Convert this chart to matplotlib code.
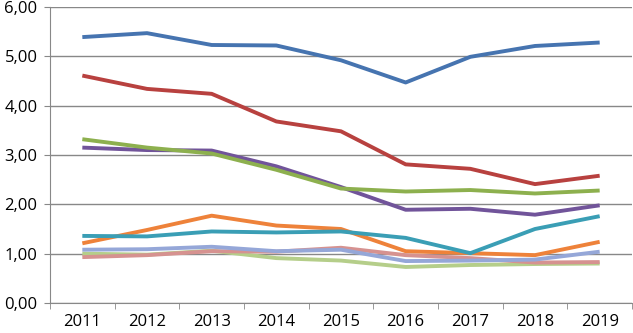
import numpy as np
import matplotlib
matplotlib.use("Agg")
import matplotlib.pyplot as plt

anos = ['2011', '2012', '2013', '2014', '2015', '2016', '2017', '2018', '2019']

azul = [5.39, 5.47, 5.23, 5.22, 4.92, 4.47, 4.99, 5.21, 5.28]
vermelho = [4.61, 4.34, 4.24, 3.68, 3.48, 2.81, 2.72, 2.41, 2.58]
verde = [3.32, 3.15, 3.03, 2.70, 2.32, 2.26, 2.29, 2.22, 2.28]
roxo = [3.15, 3.10, 3.09, 2.77, 2.35, 1.89, 1.91, 1.79, 1.98]
turquesa = [1.36, 1.35, 1.45, 1.43, 1.45, 1.32, 1.01, 1.50, 1.76]
laranja = [1.21, 1.48, 1.77, 1.57, 1.50, 1.05, 1.01, 0.97, 1.24]
azul_claro = [1.08, 1.09, 1.14, 1.05, 1.08, 0.85, 0.86, 0.88, 1.04]
rosa = [0.93, 0.97, 1.05, 1.04, 1.12, 0.97, 0.91, 0.82, 0.83]
verde_claro = [1.00, 0.98, 1.06, 0.91, 0.86, 0.73, 0.77, 0.79, 0.80]

series = [azul, vermelho, verde, roxo, turquesa, laranja, azul_claro, rosa, verde_claro]
cores = ['#4674B0', '#B8413F', '#8DB04E', '#71549A', '#3A9EB5', '#EE823A',
         '#95A7D8', '#D69290', '#B5CE8A']

plt.rcParams['font.family'] = ['Open Sans', 'DejaVu Sans']

fig = plt.figure(figsize=(6.33, 3.33), dpi=100)
ax = fig.add_axes([50/633, 30/333, 582/633, 296/333])

x = np.arange(len(anos))
# desenha de baixo para cima como no original
for valores, cor in reversed(list(zip(series, cores))):
    ax.plot(x, valores, color=cor, linewidth=2.8, solid_capstyle='butt')

ax.set_xlim(-0.5, len(anos) - 0.5)
ax.set_ylim(0, 6)
ax.set_yticks(np.arange(0, 7, 1))
ax.set_yticklabels([f'{v:.2f}'.replace('.', ',') for v in range(7)])
ax.set_xticks(x)
ax.set_xticklabels(anos)
ax.set_xticks(np.arange(-0.5, len(anos), 1), minor=True)

ax.grid(axis='y', color='#888888', linewidth=1)
ax.set_axisbelow(True)
for lado in ['top', 'right']:
    ax.spines[lado].set_visible(False)
for lado in ['left', 'bottom']:
    ax.spines[lado].set_color('#888888')
ax.tick_params(axis='x', which='major', length=0, labelsize=12, pad=8)
ax.tick_params(axis='x', which='minor', length=4, color='#888888')
ax.tick_params(axis='y', length=4, color='#888888', labelsize=12, pad=5)

fig.savefig('out.png', dpi=100)
